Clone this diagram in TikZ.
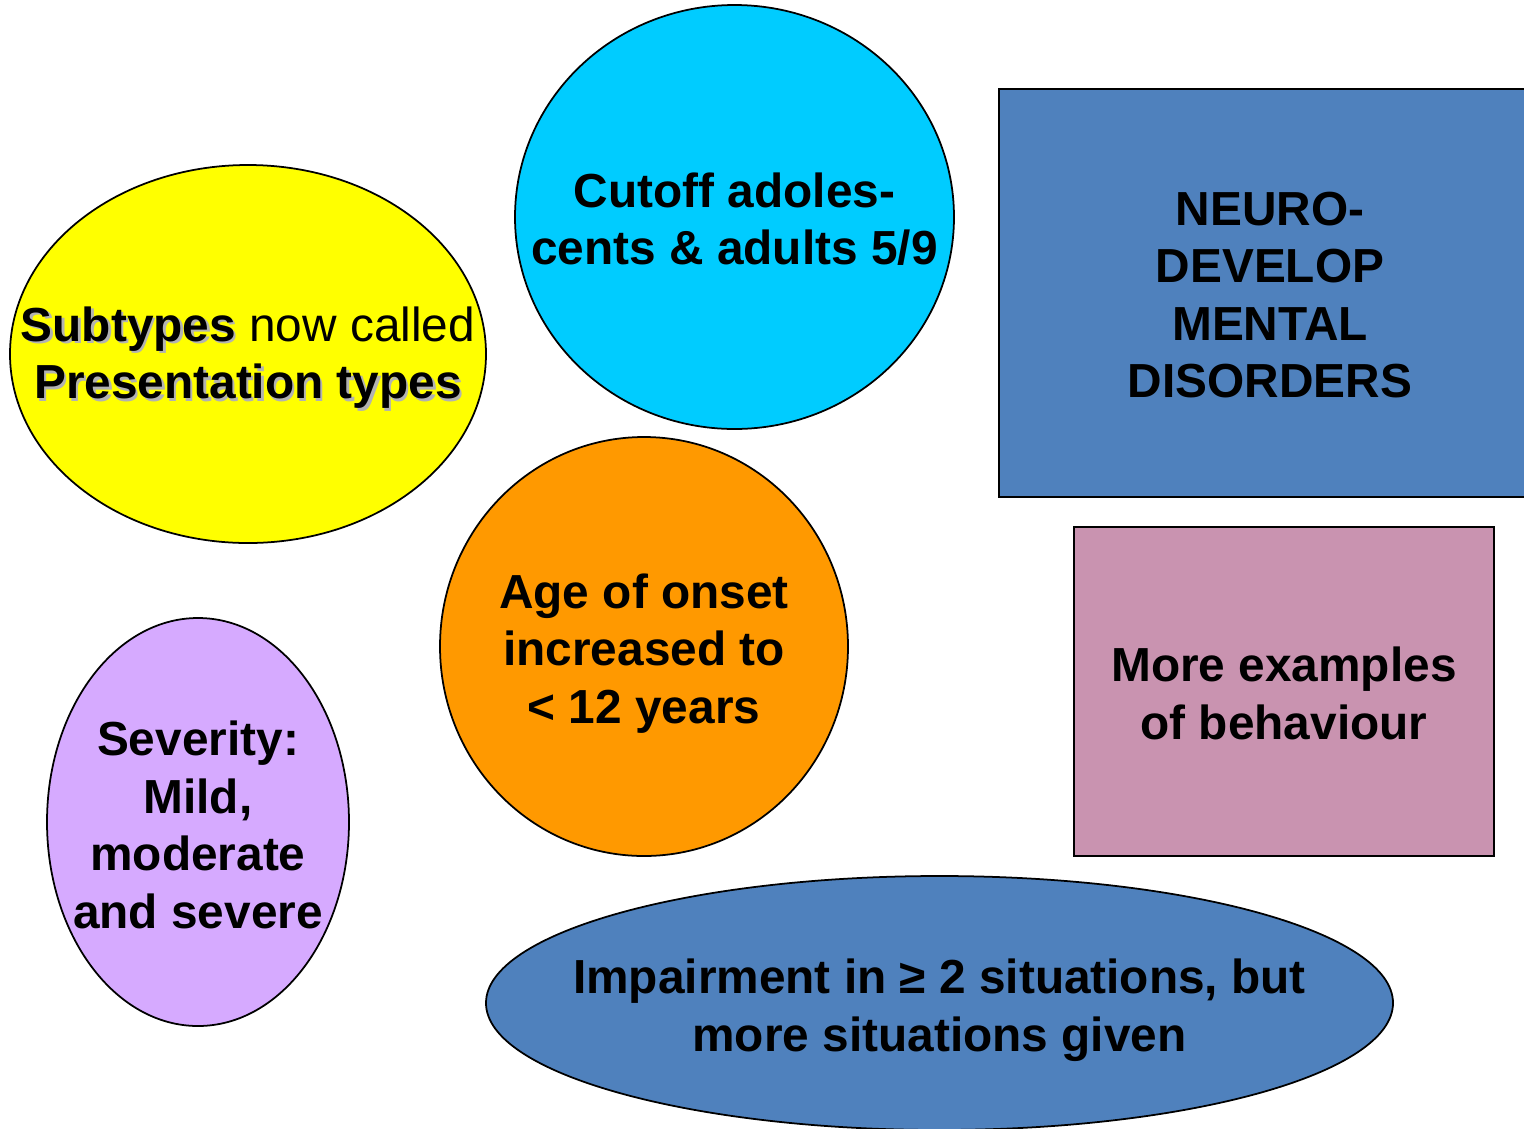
\documentclass[tikz,border=0pt]{standalone}
\usepackage{fontspec}
\setmainfont{Liberation Sans}
\usetikzlibrary{shapes.geometric}

\definecolor{dsmyellow}{RGB}{255,255,0}
\definecolor{dsmcyan}{RGB}{0,204,255}
\definecolor{dsmblue}{RGB}{79,129,189}
\definecolor{dsmorange}{RGB}{255,153,0}
\definecolor{dsmpink}{RGB}{201,147,176}
\definecolor{dsmlilac}{RGB}{214,170,255}

% bold words with a soft drop shadow
\newcommand{\shtxt}[1]{\makebox[0pt][l]{\kern0.7pt\raisebox{-0.7pt}{\color{black!30}#1}}#1}

\tikzset{
  blob/.style={draw=black, line width=0.5pt, inner sep=0pt},
  words/.style={inner sep=0pt, align=center, font=\fontsize{13.6}{16.4}\selectfont\bfseries},
}

\begin{document}
\begin{tikzpicture}[x=1cm,y=1cm]
      \clip (0,0) rectangle (15.24,-11.28);
      \fill[white] (0,0) rectangle (15.24,-11.28);

      % the shapes
      \node[blob, shape=ellipse, fill=dsmyellow, minimum width=4.76cm, minimum height=3.78cm] (subtypes) at (2.48,-3.54) {};
      \node[blob, shape=ellipse, fill=dsmcyan, minimum width=4.39cm, minimum height=4.24cm] (cutoff) at (7.345,-2.17) {};
      \node[blob, shape=rectangle, fill=dsmblue, minimum width=5.42cm, minimum height=4.08cm] (neuro) at (12.70,-2.93) {};
      \node[blob, shape=ellipse, fill=dsmorange, minimum width=4.08cm, minimum height=4.19cm] (onset) at (6.44,-6.465) {};
      \node[blob, shape=rectangle, fill=dsmpink, minimum width=4.20cm, minimum height=3.29cm] (examples) at (12.84,-6.915) {};
      \node[blob, shape=ellipse, fill=dsmlilac, minimum width=3.02cm, minimum height=4.08cm] (severity) at (1.98,-8.22) {};
      \node[blob, shape=ellipse, fill=dsmblue, minimum width=9.07cm, minimum height=2.54cm] (impair) at (9.395,-10.03) {};

      % the texts
      \node[words] (subtypes-t) at ([yshift=-0.05cm]subtypes.center)
        {\shtxt{Subtypes} {\mdseries now called}\\\shtxt{Presentation types}};
      \node[words] (cutoff-t) at ([yshift=-0.02cm]cutoff.center) {Cutoff adoles-\\cents \& adults 5/9};
      \node[words] (neuro-t) at ([yshift=-0.02cm]neuro.center) {NEURO-\\DEVELOP\\MENTAL\\DISORDERS};
      \node[words] (onset-t) at ([yshift=-0.07cm]onset.center) {Age of onset\\increased to\\< 12 years};
      \node[words] (examples-t) at ([yshift=-0.02cm]examples.center) {More examples\\of behaviour};
      \node[words] (severity-t) at ([yshift=-0.03cm]severity.center) {Severity:\\Mild,\\moderate\\and severe};
      \node[words] (impair-t) at ([yshift=-0.07cm]impair.center) {Impairment in ≥ 2 situations, but\\more situations given};
    \end{tikzpicture}
\end{document}
